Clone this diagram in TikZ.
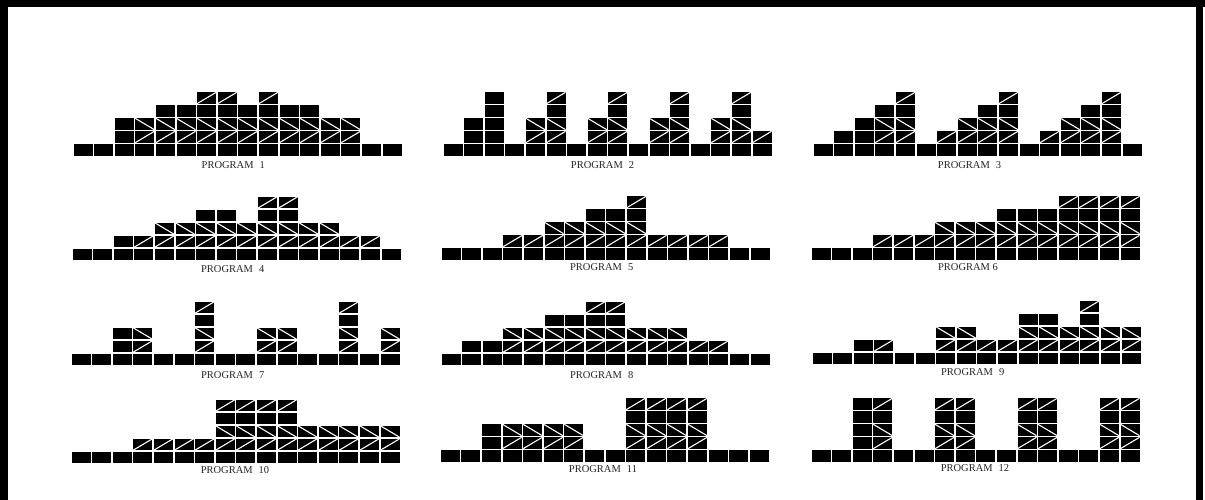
\documentclass[tikz,border=0pt]{standalone}
\usepackage{fontspec}
\setmainfont{Liberation Serif}
\newcommand\rkdx{20.6}
\newcommand\rkdy{13}
\newcommand\rkgx{0.8}
\newcommand\rkgy{0.85}
% cell: x0(px), ybottom(px), column, row
\newcommand\rkcell[4]{%
  \fill[cellfill] ({#1+#3*\rkdx+\rkgx},{500-#2+#4*\rkdy+\rkgy}) rectangle ({#1+(#3+1)*\rkdx-\rkgx},{500-#2+(#4+1)*\rkdy-\rkgy});}
\newcommand\rkup[4]{%
  \draw[diagline] ({#1+#3*\rkdx+\rkgx},{500-#2+#4*\rkdy+\rkgy}) -- ({#1+(#3+1)*\rkdx-\rkgx},{500-#2+(#4+1)*\rkdy-\rkgy});}
\newcommand\rkdown[4]{%
  \draw[diagline] ({#1+#3*\rkdx+\rkgx},{500-#2+(#4+1)*\rkdy-\rkgy}) -- ({#1+(#3+1)*\rkdx-\rkgx},{500-#2+#4*\rkdy+\rkgy});}
% program: x0(px), ybottom(px), heights (negative = plain column)
\newcommand\rkprog[3]{%
  \foreach \hv [count=\ci from 0] in {#3} {%
    \rkcell{#1}{#2}{\ci}{0}
    \pgfmathtruncatemacro\ah{abs(\hv)}
    \ifnum\ah>0
      \foreach \ri in {1,...,\ah} {%
        \rkcell{#1}{#2}{\ci}{\ri}
        \ifnum\hv>0
          \ifnum\ri=1 \rkup{#1}{#2}{\ci}{\ri}\fi
          \ifnum\ri=2 \rkdown{#1}{#2}{\ci}{\ri}\fi
          \ifnum\ri=4 \rkup{#1}{#2}{\ci}{\ri}\fi
        \fi
      }
    \fi
  }}
\begin{document}
\begin{tikzpicture}[x=1pt,y=1pt,
  cellfill/.style={fill=black},
  diagline/.style={draw=white,line width=1.1pt},
  proglabel/.style={font=\fontsize{10.5}{12}\selectfont,text=black!85,inner sep=0pt},
  frameline/.style={fill=black}]
\useasboundingbox (0,0) rectangle (1205,500);
\fill[white] (0,0) rectangle (1205,500);
% frame
\fill[frameline] (0,493) rectangle (1205,500);
\fill[frameline] (0,0) rectangle (8,500);
\fill[frameline] (1196,0) rectangle (1203,500);
% row 1
\rkprog{72.7}{156.5}{0,0,-2,2,3,3,4,4,3,4,3,3,2,2,0,0}
\rkprog{442.7}{156.5}{0,-2,-4,0,2,4,0,2,4,0,2,4,0,2,4,1}
\rkprog{812.7}{156.5}{0,-1,-2,3,4,0,1,2,3,4,0,1,2,3,4,0}
% row 2
\rkprog{71.7}{261}{0,0,-1,1,2,2,3,3,2,4,4,2,2,1,1,0}
\rkprog{440.7}{260.5}{0,0,0,1,1,2,2,3,3,4,1,1,1,1,0,0}
\rkprog{810.7}{260.5}{0,0,0,1,1,1,2,2,2,3,3,3,4,4,4,4}
% row 3
\rkprog{70.7}{366}{0,0,-2,2,0,0,4,0,0,2,2,0,0,4,0,2}
\rkprog{440.7}{366}{0,-1,-1,2,2,3,3,4,4,2,2,2,1,1,0,0}
\rkprog{811.7}{365}{0,0,-1,1,0,0,2,2,1,1,3,3,2,4,2,2}
% row 4
\rkprog{70.7}{464}{0,0,0,1,1,1,1,4,4,4,4,2,2,2,2,2}
\rkprog{440}{462.5}{0,0,-2,2,2,2,2,0,0,4,4,4,4,0,0,0}
\rkprog{810.7}{462.5}{0,0,-4,4,0,0,4,4,0,0,4,4,0,0,4,4}
% labels
\node[proglabel] (lab1) at (233.3,{500-165.5}) {PROGRAM\hspace{6pt}1};
\node[proglabel] (lab2) at (602.5,{500-165.5}) {PROGRAM\hspace{6pt}2};
\node[proglabel] (lab3) at (969.5,{500-165.5}) {PROGRAM\hspace{6pt}3};
\node[proglabel] (lab4) at (232.7,{500-269.5}) {PROGRAM\hspace{6pt}4};
\node[proglabel] (lab5) at (601.7,{500-267.5}) {PROGRAM\hspace{6pt}5};
\node[proglabel] (lab6) at (968,{500-267.5}) {PROGRAM 6};
\node[proglabel] (lab7) at (232.7,{500-375.5}) {PROGRAM\hspace{6pt}7};
\node[proglabel] (lab8) at (601.7,{500-375}) {PROGRAM\hspace{6pt}8};
\node[proglabel] (lab9) at (972.7,{500-372.5}) {PROGRAM\hspace{6pt}9};
\node[proglabel] (lab10) at (235,{500-470}) {PROGRAM\hspace{6pt}10};
\node[proglabel] (lab11) at (603,{500-469}) {PROGRAM\hspace{6pt}11};
\node[proglabel] (lab12) at (975,{500-468}) {PROGRAM\hspace{6pt}12};
\end{tikzpicture}
\end{document}
